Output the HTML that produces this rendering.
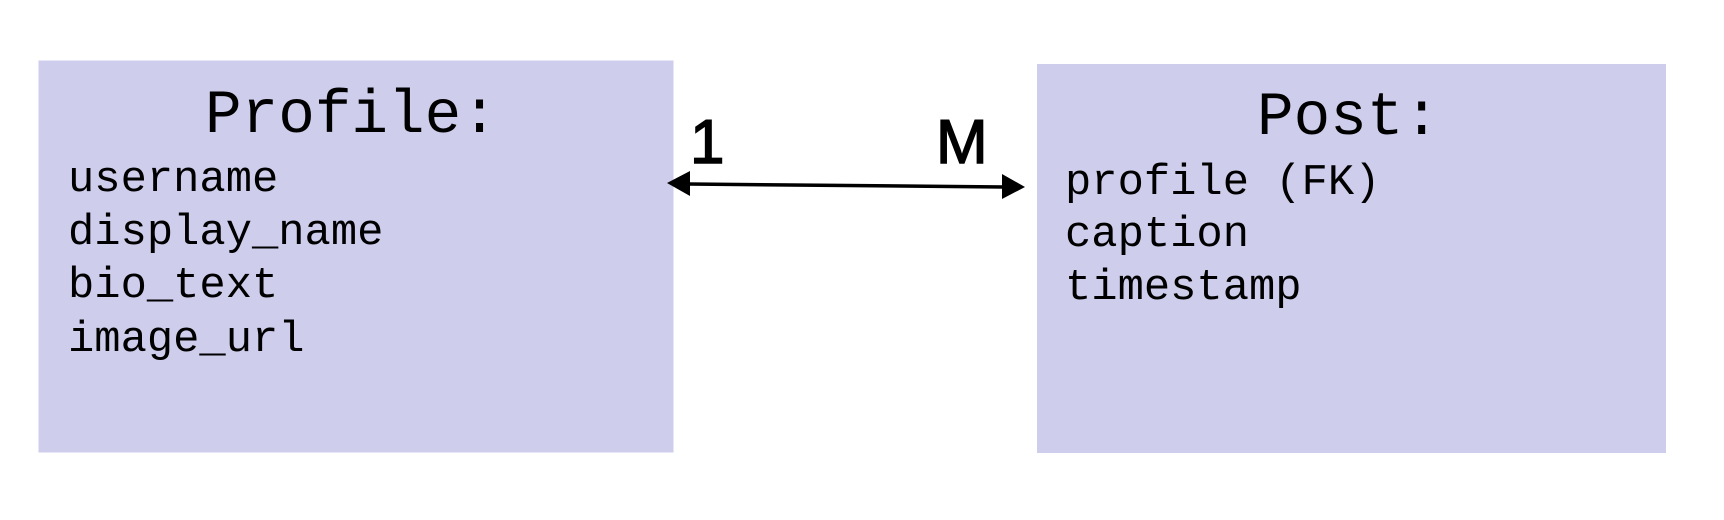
<!DOCTYPE html>
<html><head><meta charset="utf-8"><style>
html,body{margin:0;padding:0;background:#fff;width:1724px;height:520px;overflow:hidden}
</style></head><body>
<svg width="1724" height="520" viewBox="0 0 1724 520" xmlns="http://www.w3.org/2000/svg">
<rect x="38.5" y="60.5" width="635" height="392" fill="#cecdec"/>
<rect x="1037" y="64" width="629" height="389" fill="#cecdec"/>
<g font-family="'Liberation Mono', monospace" fill="#000">
<text x="205" y="132" font-size="61">Profile:</text>
<text x="68" y="191" font-size="43.8">username</text>
<text x="68" y="244" font-size="43.8">display_name</text>
<text x="68" y="297" font-size="43.8">bio_text</text>
<text x="68" y="351" font-size="43.8">image_url</text>
<text x="1257" y="134" font-size="61">Post:</text>
<text x="1065" y="194" font-size="43.8">profile (FK)</text>
<text x="1065" y="246" font-size="43.8">caption</text>
<text x="1065" y="299" font-size="43.8">timestamp</text>
</g>
<g font-family="'Liberation Sans', Arial, sans-serif" fill="#000" stroke="#000" stroke-width="1.5" font-size="62">
<text x="690" y="163">1</text>
<text x="936" y="163">M</text>
</g>
<line x1="688" y1="184" x2="1004" y2="187" stroke="#000" stroke-width="3.5"/>
<polygon points="667,183 690,171 690,196" fill="#000"/>
<polygon points="1025,187 1002,174 1002,199" fill="#000"/>
</svg>
</body></html>
